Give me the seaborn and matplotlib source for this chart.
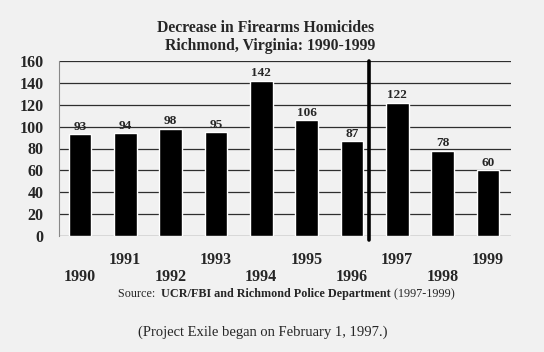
#---------------------------------------------------------------
"""
# Decrease in Firearms Homicides, Richmond, Virginia: 1990-1999
Bar chart of firearms homicides per year, with a marker for the
start of Project Exile in 1997.
"""
#---------------------------------------------------------------
import matplotlib
matplotlib.use('Agg')
import matplotlib.pyplot as plt
import pandas as pd
import seaborn as sns

#---------------------------------------------------------------
years = ['1990', '1991', '1992', '1993', '1994',
         '1995', '1996', '1997', '1998', '1999']
homicides = [93, 94, 98, 95, 142, 106, 87, 122, 78, 60]
y_ticks = [0, 20, 40, 60, 80, 100, 120, 140, 160]
exile_pos = 6.37   # Project Exile start, between 1996 and 1997 bars

title = 'Decrease in Firearms Homicides\n  Richmond, Virginia: 1990-1999'
source_parts = ['Source:  ', 'UCR/FBI and Richmond Police Department', ' (1997-1999)']
caption = '(Project Exile began on February 1, 1997.)'


#---------------------------------------------------------------
def main():
    sns.set_style('white')
    plt.rcParams['font.family'] = ['Liberation Serif', 'DejaVu Serif']
    bg = '#f1f1f1'
    grid_c = '#2e2e2e'

    df = pd.DataFrame({'year': years, 'n': homicides})
    fig = plt.figure(figsize = (5.44, 3.52), dpi = 100, facecolor = bg)
    ax = fig.add_axes([59 / 544, 1 - 236 / 352, (511 - 59) / 544, (236 - 61) / 352])
    ax.set_facecolor(bg)

    sns.barplot(data = df, x = 'year', y = 'n', color = 'black', saturation = 1,
                width = 0.5, ax = ax, zorder = 3)

    ax.set_xlim(-0.46, 9.51)
    ax.set_ylim(0, 160)
    ax.set_yticks(y_ticks)
    ax.set_yticklabels([str(t) for t in y_ticks], fontweight = 'bold', fontsize = 11.5)
    ax.yaxis.grid(True, color = grid_c, linewidth = 0.9)
    ax.set_axisbelow(True)
    ax.tick_params(axis = 'y', length = 6.5, width = 0.9, color = grid_c, pad = 4.5,
                   direction = 'out')

    even = list(range(0, 10, 2))
    odd = list(range(1, 10, 2))
    ax.set_xticks(even)
    ax.set_xticklabels([years[i] for i in even], fontweight = 'bold', fontsize = 11.5)
    ax.set_xticks(odd, minor = True)
    ax.set_xticklabels([years[i] for i in odd], minor = True, fontweight = 'bold', fontsize = 11.5)
    ax.tick_params(axis = 'x', which = 'major', length = 19, width = 0.6, color = '#555555', pad = 5)
    ax.tick_params(axis = 'x', which = 'minor', length = 5.5, width = 0.6, color = '#555555', pad = 6)
    ax.set_xlabel('')
    ax.set_ylabel('')

    for s in ['top', 'right', 'bottom']:
        ax.spines[s].set_visible(False)
    ax.spines['left'].set_color('#888888')
    ax.spines['left'].set_linewidth(0.8)

    for i, v in enumerate(homicides):
        ax.text(i, v + 1.2, str(v), ha = 'center', va = 'bottom',
                fontsize = 9.5, fontweight = 'bold', zorder = 4)

    ax.axvline(exile_pos, ymin = -0.025, ymax = 1, color = 'black',
               linewidth = 2.6, clip_on = False, zorder = 5)

    fig.text(266 / 544, 1 - 37 / 352, title, ha = 'center', va = 'center',
             fontsize = 11.3, fontweight = 'bold', linespacing = 1.2)

    t = fig.text(118 / 544, 1 - 294 / 352, source_parts[0], ha = 'left', va = 'center',
                 fontsize = 8.7)
    t = ax.annotate(source_parts[1], xy = (1, 0.5), xycoords = t, va = 'center',
                    fontsize = 8.7, fontweight = 'bold', annotation_clip = False)
    ax.annotate(source_parts[2], xy = (1, 0.5), xycoords = t, va = 'center',
                fontsize = 8.7, annotation_clip = False)

    fig.text(263 / 544, 1 - 332 / 352, caption, ha = 'center', va = 'center', fontsize = 10.5)

    fig.savefig('out.png', dpi = 100, facecolor = bg)


#---------------------------------------------------------------
if __name__ == '__main__':
    main()
